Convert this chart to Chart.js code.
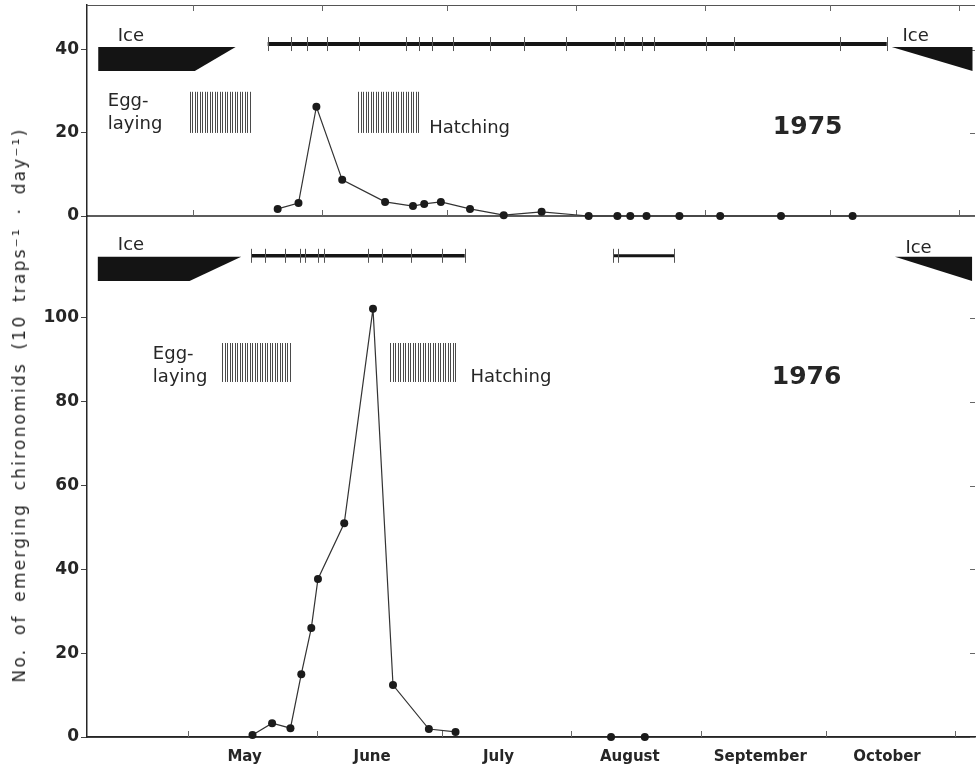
<!DOCTYPE html>
<html>
<head>
<meta charset="utf-8">
<script src="https://cdn.jsdelivr.net/npm/chart.js@4"></script>
<style>
  body { margin: 0; background: #fff; }
  #wrap { position: relative; width: 979px; height: 767px; overflow: hidden; background: #fff; }
  #top { position: absolute; left: 0; top: 0; }
  #bottom { position: absolute; left: 0; top: 210px; }
  #ytitle {
    position: absolute; left: 19px; top: 405px;
    transform: translate(-50%, -50%) rotate(-90deg);
    white-space: nowrap; font: 17px "DejaVu Sans", sans-serif;
    letter-spacing: 2.2px; word-spacing: 5px; color: #262626;
  }
</style>
</head>
<body>
<div id="wrap">
  <canvas id="top" width="979" height="222"></canvas>
  <canvas id="bottom" width="979" height="557"></canvas>
  <div id="ytitle">No. of emerging chironomids (10 traps⁻¹ · day⁻¹)</div>
</div>
<script>
// days counted from 1 May
const months = ["May", "June", "July", "August", "September", "October"];
const monthMidDays = [13.6, 44.2, 74.5, 106, 137.3, 167.7];
const monthStartDays = [0, 31, 61, 92, 123, 153, 184];

// 1975
const days1975 = [20.4, 25.4, 29.7, 35.9, 46.2, 52.9, 55.6, 59.6, 66.6, 74.7, 83.8, 95.1, 102.0, 105.1, 109.0, 116.9, 126.7, 141.3, 158.5];
const counts1975 = [1.7, 3.1, 26.3, 8.7, 3.4, 2.4, 2.9, 3.4, 1.7, 0.2, 1.0, 0, 0, 0, 0, 0, 0, 0, 0];
const sampling1975 = [[18.0, 23.5, 27.5, 32.3, 40.0, 51.2, 54.3, 57.5, 62.5, 71.4, 79.5, 89.6, 101.5, 103.6, 107.8, 110.9, 123.3, 130.0, 155.4, 166.7]];
const iceSpring1975 = [-22.7, 0.5, 10.3];   // first day shown, end of full cover, ice gone
const iceAutumn1975 = [167.9, 187.3];
const eggLaying1975 = [-0.7, 14.1];
const hatching1975 = [39.8, 54.4];
const yTicks1975 = [0, 20, 40];

// 1976
const days1976 = [15.5, 20.2, 24.6, 27.2, 29.6, 31.2, 37.5, 44.4, 49.2, 57.8, 64.2, 101.5, 109.6];
const counts1976 = [0.5, 3.3, 2.1, 15.0, 26.0, 37.7, 51.0, 102.2, 12.4, 1.9, 1.2, 0, 0];
const sampling1976 = [[15.2, 18.4, 23.4, 26.9, 28.1, 31.2, 32.7, 43.2, 46.5, 53.5, 60.9, 66.4], [102.0, 103.2, 116.6]];
const iceSpring1976 = [-21.6, 0.4, 12.8];
const iceAutumn1976 = [169.6, 188.1];
const eggLaying1976 = [8.3, 24.8];
const hatching1976 = [48.5, 64.5];
const yTicks1976 = [0, 20, 40, 60, 80, 100];

const INK = "#262626";
const FONT = '"DejaVu Sans", sans-serif';

const decor = {
  id: "decor",
  beforeDatasetsDraw(chart, args, o) {
    const { ctx, chartArea: a, scales: { x, y } } = chart;
    const X = v => x.getPixelForValue(v), Y = v => y.getPixelForValue(v);
    ctx.save();

    // frame lines
    ctx.strokeStyle = "#555";
    ctx.lineWidth = 1;
    if (o.topLine) {
      ctx.beginPath(); ctx.moveTo(a.left, a.top + 0.5); ctx.lineTo(a.right, a.top + 0.5); ctx.stroke();
    }
    ctx.strokeStyle = INK;
    ctx.lineWidth = 1.5;
    ctx.beginPath(); ctx.moveTo(a.left, Y(0)); ctx.lineTo(a.right, Y(0)); ctx.stroke();

    // month ticks, inside
    ctx.strokeStyle = "#666";
    ctx.lineWidth = 1;
    monthStartDays.forEach(d => {
      const px = Math.round(X(d)) + 0.5;
      ctx.beginPath(); ctx.moveTo(px, Y(0)); ctx.lineTo(px, Y(0) - 6); ctx.stroke();
      if (o.topLine) { ctx.beginPath(); ctx.moveTo(px, a.top); ctx.lineTo(px, a.top + 6); ctx.stroke(); }
    });
    // right side ticks
    o.yTicks.forEach(v => {
      const py = Math.round(Y(v)) + 0.5;
      ctx.beginPath(); ctx.moveTo(a.right, py); ctx.lineTo(a.right - 5, py); ctx.stroke();
    });

    // ice
    const [i0, i1] = o.iceBand;
    ctx.fillStyle = "#141414";
    ctx.beginPath();
    ctx.moveTo(X(o.iceSpring[0]), Y(i0));
    ctx.lineTo(X(o.iceSpring[2]), Y(i0));
    ctx.lineTo(X(o.iceSpring[1]), Y(i1));
    ctx.lineTo(X(o.iceSpring[0]), Y(i1));
    ctx.closePath(); ctx.fill();
    ctx.beginPath();
    ctx.moveTo(X(o.iceAutumn[0]), Y(i0));
    ctx.lineTo(X(o.iceAutumn[1]), Y(i0));
    ctx.lineTo(X(o.iceAutumn[1]), Y(i1));
    ctx.closePath(); ctx.fill();

    // sampling dates
    o.sampling.forEach((run, k) => {
      const sy = Y(o.samplingY);
      ctx.strokeStyle = "#151515";
      ctx.lineWidth = o.samplingWidth[k];
      ctx.beginPath(); ctx.moveTo(X(run[0]), sy); ctx.lineTo(X(run[run.length - 1]), sy); ctx.stroke();
      ctx.strokeStyle = "#555";
      ctx.lineWidth = 1;
      run.forEach(d => {
        const px = Math.round(X(d)) + 0.5;
        ctx.beginPath(); ctx.moveTo(px, sy - 7); ctx.lineTo(px, sy + 7); ctx.stroke();
      });
    });

    // egg-laying and hatching periods
    const [h0, h1] = o.hatchBand;
    ctx.strokeStyle = "#4a4a4a";
    ctx.lineWidth = 1;
    [o.eggs, o.hatch].forEach(p => {
      const l = X(p[0]), r = X(p[1]);
      for (let px = l; px <= r; px += 2.5) {
        ctx.beginPath(); ctx.moveTo(Math.round(px) + 0.5, Y(h1)); ctx.lineTo(Math.round(px) + 0.5, Y(h0)); ctx.stroke();
      }
    });

    // texts
    ctx.fillStyle = INK;
    ctx.textBaseline = "middle";
    o.texts.forEach(t => {
      ctx.font = t.font;
      ctx.textAlign = t.align || "left";
      ctx.fillText(t.text, X(t.x), Y(t.y));
    });
    ctx.restore();
  }
};

function series(days, counts) {
  return {
    data: days.map((d, i) => ({ x: d, y: counts[i] })),
    borderColor: "#333",
    borderWidth: 1.2,
    pointRadius: 4,
    pointHoverRadius: 4,
    pointBackgroundColor: "#1b1b1b",
    pointBorderWidth: 0,
    tension: 0,
    clip: false,
    segment: { borderColor: c => (c.p1.parsed.x - c.p0.parsed.x > 30 ? "transparent" : "#333") }
  };
}

function yAxis(max, ticks) {
  return {
    min: 0, max: max,
    afterBuildTicks: s => { s.ticks = ticks.map(v => ({ value: v })); },
    afterFit: s => { s.width = 87; s.paddingTop = 0; s.paddingBottom = 0; },
    grid: { drawOnChartArea: false, tickLength: 6, color: "#444" },
    border: { color: INK, width: 1.5 },
    ticks: { color: INK, padding: 2, font: { family: FONT, size: 17, weight: "bold" } }
  };
}

const textFont = `18px ${FONT}`;
const yearFont = `bold 25px ${FONT}`;

new Chart(document.getElementById("top"), {
  type: "line",
  data: { datasets: [series(days1975, counts1975)] },
  options: {
    responsive: false, animation: false, devicePixelRatio: 1,
    layout: { padding: { top: 5, right: 1, bottom: 6, left: 0 } },
    scales: {
      x: { type: "linear", min: -25.4, max: 187.9, display: false },
      y: yAxis(50.8, yTicks1975)
    },
    plugins: {
      legend: { display: false }, tooltip: { enabled: false },
      decor: {
        topLine: true, yTicks: yTicks1975,
        iceSpring: iceSpring1975, iceAutumn: iceAutumn1975, iceBand: [40.7, 34.9],
        sampling: sampling1975, samplingY: 41.4, samplingWidth: [4],
        eggs: eggLaying1975, hatch: hatching1975, hatchBand: [20, 29.9],
        texts: [
          { text: "Ice", x: -18.0, y: 43.3, font: textFont },
          { text: "Ice", x: 170.5, y: 43.3, font: textFont },
          { text: "Egg-", x: -20.4, y: 27.6, font: textFont },
          { text: "laying", x: -20.4, y: 22.0, font: textFont },
          { text: "Hatching", x: 56.8, y: 21.0, font: textFont },
          { text: "1975", x: 147.7, y: 21.4, font: yearFont, align: "center" }
        ]
      }
    }
  },
  plugins: [decor]
});

new Chart(document.getElementById("bottom"), {
  type: "line",
  data: { datasets: [series(days1976, counts1976)] },
  options: {
    responsive: false, animation: false, devicePixelRatio: 1,
    layout: { padding: { top: 6, right: 1, bottom: 0, left: 0 } },
    scales: {
      x: {
        type: "linear", min: -24.2, max: 188.8,
        afterBuildTicks: s => { s.ticks = monthMidDays.map(v => ({ value: v })); },
        afterFit: s => { s.height = 30; },
        grid: { display: false },
        border: { color: INK, width: 1.5 },
        ticks: {
          color: INK, padding: 3, maxRotation: 0, autoSkip: false,
          font: { family: FONT, size: 15, weight: "bold" },
          callback: (v, i) => months[i]
        }
      },
      y: yAxis(124.3, yTicks1976)
    },
    plugins: {
      legend: { display: false }, tooltip: { enabled: false },
      decor: {
        topLine: false, yTicks: yTicks1976,
        iceSpring: iceSpring1976, iceAutumn: iceAutumn1976, iceBand: [114.6, 108.8],
        sampling: sampling1976, samplingY: 114.8, samplingWidth: [3.5, 3],
        eggs: eggLaying1976, hatch: hatching1976, hatchBand: [84.7, 94.0],
        texts: [
          { text: "Ice", x: -16.8, y: 117.2, font: textFont },
          { text: "Ice", x: 172.1, y: 116.7, font: textFont },
          { text: "Egg-", x: -8.4, y: 91.2, font: textFont },
          { text: "laying", x: -8.4, y: 85.7, font: textFont },
          { text: "Hatching", x: 67.8, y: 85.7, font: textFont },
          { text: "1976", x: 148.4, y: 85.7, font: yearFont, align: "center" }
        ]
      }
    }
  },
  plugins: [decor]
});
</script>
</body>
</html>
